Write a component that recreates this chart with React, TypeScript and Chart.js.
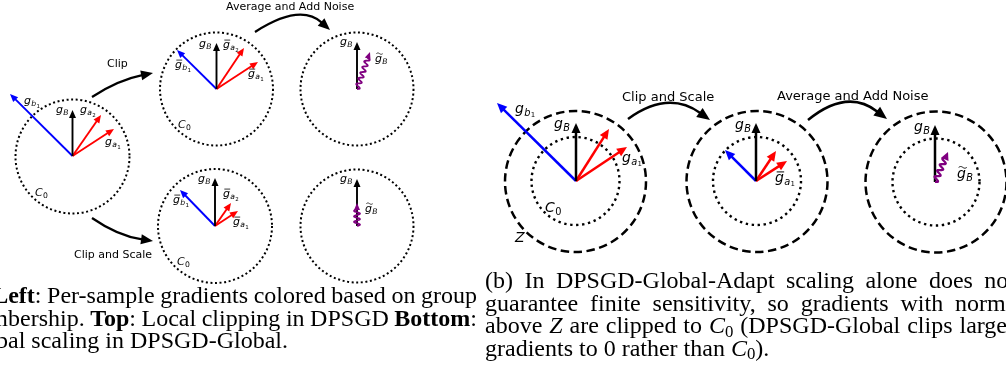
import { useEffect, useRef } from "react";
import { Chart, registerables } from "chart.js";

Chart.register(...registerables);

const WIDTH = 1006;
const HEIGHT = 381;

// ---------- (a) per-sample clipping vs. global scaling ----------
// dotted C0 balls: [cx, cy, r]
const clipBalls = [
  [72.5, 156.5, 57],
  [216.5, 89, 56.5],
  [357, 89, 56.5],
  [215, 226, 57],
  [357, 226, 56.5],
];
// gradient vectors: [x0, y0, x1, y1]
const groupBVectors = [
  [72.5, 156, 10, 94],
  [216.5, 89, 177, 50],
  [215, 226, 180, 190],
];
const groupAVectors = [
  [72.5, 156, 101, 115],
  [72.5, 156, 114, 129],
  [216.5, 89, 244, 48],
  [216.5, 89, 258, 62],
  [215, 226, 231, 203],
  [215, 226, 238, 211],
];
const batchVectors = [
  [72.5, 156, 72.5, 110],
  [216.5, 89, 216.5, 43],
  [357, 89, 357, 42],
  [215, 226, 215, 178],
  [357, 226, 357, 179],
];
const noisyVectors = [
  [357, 89, 370, 52],
  [357, 226, 357, 203],
];
// step arrows: [x0, y0, ctrlX, ctrlY, x1, y1]
const stepArrowsA = [
  [92, 97, 118, 80, 153, 73],
  [92, 218, 118, 236, 153, 241],
  [255, 32, 300, 3, 330, 30],
];
// step captions: [text, x, baseline, size]
const stepLabelsA: [string, number, number, number][] = [
  ["Clip", 107, 67, 11],
  ["Clip and Scale", 74, 258, 11],
  ["Average and Add Noise", 226, 10, 11],
];
// math labels: [x, baseline, base, accent, sub, subsub, size]
type MathLabel = [number, number, string, string, string, string, number];
const mathLabelsA: MathLabel[] = [
  [24, 104, "g", "", "b", "1", 11],
  [56, 113, "g", "", "B", "", 11],
  [80, 113, "g", "", "a", "2", 11],
  [105, 145, "g", "", "a", "1", 11],
  [35, 196, "C", "", "0", "", 11],
  [175, 68, "g", "bar", "b", "1", 11],
  [199, 47, "g", "", "B", "", 11],
  [223, 48, "g", "bar", "a", "2", 11],
  [248, 77, "g", "bar", "a", "1", 11],
  [178, 128, "C", "", "0", "", 11],
  [340, 45, "g", "", "B", "", 11],
  [375, 62, "g", "tilde", "B", "", 11],
  [198, 182, "g", "", "B", "", 11],
  [173, 203, "g", "bar", "b", "1", 11],
  [223, 197, "g", "bar", "a", "2", 11],
  [233, 225, "g", "bar", "a", "1", 11],
  [177, 265, "C", "", "0", "", 11],
  [340, 182, "g", "", "B", "", 11],
  [365, 212, "g", "tilde", "B", "", 11],
];

// ---------- (b) DPSGD-Global-Adapt ----------
const adaptInnerBalls = [
  [575.5, 181, 44],
  [757, 181, 44],
  [936, 182, 43.5],
];
const adaptOuterBalls = [
  [575.5, 181.5, 70.5],
  [757, 181.5, 70.5],
  [936, 182, 70.5],
];
const adaptGroupB = [
  [576, 181, 497, 103],
  [756, 181, 725, 150],
];
const adaptGroupA = [
  [576, 181, 609, 129],
  [576, 181, 627, 147],
  [756, 181, 776, 151],
  [756, 181, 787, 161],
];
const adaptBatch = [
  [576, 181, 576, 123],
  [756, 181, 756, 123],
  [935, 182, 935, 125],
];
const adaptNoisy = [[935, 182, 948, 152]];
const stepArrowsB = [
  [628, 119, 668, 90, 710, 120],
  [808, 120, 847, 88, 887, 119],
];
const stepLabelsB: [string, number, number, number][] = [
  ["Clip and Scale", 622, 101, 13],
  ["Average and Add Noise", 777, 100, 13],
];
const mathLabelsB: MathLabel[] = [
  [515, 113, "g", "", "b", "1", 14],
  [554, 128, "g", "", "B", "", 14],
  [622, 162, "g", "", "a", "1", 14],
  [545, 212, "C", "", "0", "", 14],
  [515, 242, "Z", "", "", "", 14],
  [735, 129, "g", "", "B", "", 14],
  [775, 182, "g", "bar", "a", "1", 14],
  [914, 131, "g", "", "B", "", 14],
  [957, 178, "g", "tilde", "B", "", 14],
];

// ---------- captions ----------
const captionA = [
  "(a) **Left**: Per-sample gradients colored based on group",
  "membership. **Top**: Local clipping in DPSGD **Bottom**:",
  "Global scaling in DPSGD-Global.",
];
const captionB = [
  "(b) In DPSGD-Global-Adapt scaling alone does not",
  "guarantee finite sensitivity, so gradients with norms",
  "above *Z* are clipped to *C*_0 (DPSGD-Global clips larger",
  "gradients to 0 rather than *C*_0).",
];
const captionABaselines = [303, 325.5, 348];
const captionBBaselines = [288, 310.5, 333, 355.5];

const BLUE = "#0000ff";
const RED = "#ff0000";
const BLACK = "#000000";
const PURPLE = "#800080";
const CAPTION_FONT = '"Liberation Serif", "Times New Roman", serif';
const SANS = '"DejaVu Sans", sans-serif';
const CAPTION_SIZE = 24;

type Ctx = CanvasRenderingContext2D;

function head(ctx: Ctx, x1: number, y1: number, ux: number, uy: number, hl: number, hw: number) {
  const bx = x1 - ux * hl;
  const by = y1 - uy * hl;
  const px = -uy;
  const py = ux;
  ctx.beginPath();
  ctx.moveTo(x1, y1);
  ctx.lineTo(bx + (px * hw) / 2, by + (py * hw) / 2);
  ctx.lineTo(bx - (px * hw) / 2, by - (py * hw) / 2);
  ctx.closePath();
  ctx.fill();
}

function straightArrow(ctx: Ctx, x0: number, y0: number, x1: number, y1: number, color: string, lw: number, hl: number, hw: number) {
  const L = Math.hypot(x1 - x0, y1 - y0);
  const ux = (x1 - x0) / L;
  const uy = (y1 - y0) / L;
  ctx.save();
  ctx.strokeStyle = color;
  ctx.fillStyle = color;
  ctx.lineWidth = lw;
  ctx.setLineDash([]);
  ctx.beginPath();
  ctx.moveTo(x0, y0);
  ctx.lineTo(x1 - ux * (hl - 1), y1 - uy * (hl - 1));
  ctx.stroke();
  head(ctx, x1, y1, ux, uy, hl, hw);
  ctx.restore();
}

function wavyArrow(ctx: Ctx, x0: number, y0: number, x1: number, y1: number, lw: number, hl: number, hw: number, amp: number, wl: number) {
  const L = Math.hypot(x1 - x0, y1 - y0);
  const ux = (x1 - x0) / L;
  const uy = (y1 - y0) / L;
  const px = -uy;
  const py = ux;
  const run = L - hl + 1;
  ctx.save();
  ctx.strokeStyle = PURPLE;
  ctx.fillStyle = PURPLE;
  ctx.lineWidth = lw;
  ctx.setLineDash([]);
  ctx.lineJoin = "round";
  ctx.beginPath();
  for (let s = 0; s <= run; s += 0.4) {
    const o = amp * Math.sin((2 * Math.PI * s) / wl);
    const x = x0 + ux * s + px * o;
    const y = y0 + uy * s + py * o;
    if (s === 0) ctx.moveTo(x, y);
    else ctx.lineTo(x, y);
  }
  ctx.stroke();
  head(ctx, x1, y1, ux, uy, hl, hw);
  ctx.restore();
}

function curvedArrow(ctx: Ctx, a: number[], lw: number, hl: number, hw: number) {
  const [x0, y0, cx, cy, x1, y1] = a;
  const L = Math.hypot(x1 - cx, y1 - cy);
  const ux = (x1 - cx) / L;
  const uy = (y1 - cy) / L;
  ctx.save();
  ctx.strokeStyle = BLACK;
  ctx.fillStyle = BLACK;
  ctx.lineWidth = lw;
  ctx.setLineDash([]);
  ctx.beginPath();
  ctx.moveTo(x0, y0);
  ctx.quadraticCurveTo(cx, cy, x1 - ux * (hl - 1), y1 - uy * (hl - 1));
  ctx.stroke();
  head(ctx, x1, y1, ux, uy, hl, hw);
  ctx.restore();
}

function ring(ctx: Ctx, cx: number, cy: number, r: number, dash: number[], lw: number) {
  ctx.save();
  ctx.strokeStyle = BLACK;
  ctx.lineWidth = lw;
  ctx.setLineDash(dash);
  ctx.beginPath();
  ctx.arc(cx, cy, r, 0, Math.PI * 2);
  ctx.stroke();
  ctx.restore();
}

function mathLabel(ctx: Ctx, x: number, y: number, base: string, accent: string, sub: string, subsub: string, s: number) {
  ctx.save();
  ctx.fillStyle = BLACK;
  ctx.strokeStyle = BLACK;
  ctx.textBaseline = "alphabetic";
  ctx.textAlign = "left";
  ctx.font = `italic ${s}px ${SANS}`;
  ctx.fillText(base, x, y);
  const wb = ctx.measureText(base).width;
  ctx.lineWidth = Math.max(0.8, s * 0.07);
  if (accent === "bar") {
    ctx.beginPath();
    ctx.moveTo(x + s * 0.12, y - s * 0.72);
    ctx.lineTo(x + wb + s * 0.02, y - s * 0.72);
    ctx.stroke();
  } else if (accent === "tilde") {
    ctx.beginPath();
    const x0 = x + s * 0.12;
    const w = wb - s * 0.05;
    for (let t = 0; t <= 1.0001; t += 0.05) {
      const xx = x0 + w * t;
      const yy = y - s * 0.76 - Math.sin(t * Math.PI * 2) * s * 0.06;
      if (t === 0) ctx.moveTo(xx, yy);
      else ctx.lineTo(xx, yy);
    }
    ctx.stroke();
  }
  let cx = x + wb + s * 0.03;
  if (sub) {
    const digit = /[0-9]/.test(sub);
    const ss = s * 0.7;
    ctx.font = `${digit ? "" : "italic "}${ss}px ${SANS}`;
    ctx.fillText(sub, cx, y + s * 0.2);
    cx += ctx.measureText(sub).width;
    if (subsub) {
      ctx.font = `${s * 0.5}px ${SANS}`;
      ctx.fillText(subsub, cx + s * 0.02, y + s * 0.32);
    }
  }
  ctx.restore();
}

type Seg = { t: string; b: boolean; i: boolean; sub: boolean };

function parseWord(w: string): Seg[] {
  const segs: Seg[] = [];
  let bold = false;
  let ital = false;
  let buf = "";
  const flush = () => {
    if (buf) segs.push({ t: buf, b: bold, i: ital, sub: false });
    buf = "";
  };
  for (let k = 0; k < w.length; k++) {
    if (w.startsWith("**", k)) {
      flush();
      bold = !bold;
      k++;
      continue;
    }
    if (w[k] === "*") {
      flush();
      ital = !ital;
      continue;
    }
    if (w[k] === "_") {
      flush();
      segs.push({ t: w[k + 1], b: false, i: false, sub: true });
      k++;
      continue;
    }
    buf += w[k];
  }
  flush();
  return segs;
}

function segFont(seg: Seg, size: number) {
  const sz = seg.sub ? size * 0.7 : size;
  return `${seg.i ? "italic " : ""}${seg.b ? "bold " : ""}${sz}px ${CAPTION_FONT}`;
}

function wordWidth(ctx: Ctx, segs: Seg[], size: number) {
  let w = 0;
  for (const seg of segs) {
    ctx.font = segFont(seg, size);
    w += ctx.measureText(seg.t).width;
  }
  return w;
}

function justifiedParagraph(ctx: Ctx, lines: string[], baselines: number[], left: number, right: number, size: number) {
  ctx.save();
  ctx.fillStyle = BLACK;
  ctx.textBaseline = "alphabetic";
  ctx.textAlign = "left";
  ctx.font = `${size}px ${CAPTION_FONT}`;
  const space = ctx.measureText(" ").width;
  lines.forEach((line, li) => {
    const words = line.split(" ").map(parseWord);
    const widths = words.map((w) => wordWidth(ctx, w, size));
    const total = widths.reduce((a, b) => a + b, 0);
    const last = li === lines.length - 1;
    const gap = last || words.length < 2 ? space : (right - left - total) / (words.length - 1);
    let x = left;
    words.forEach((segs, wi) => {
      let cx = x;
      for (const seg of segs) {
        ctx.font = segFont(seg, size);
        ctx.fillText(seg.t, cx, baselines[li] + (seg.sub ? size * 0.15 : 0));
        cx += ctx.measureText(seg.t).width;
      }
      x += widths[wi] + gap;
    });
  });
  ctx.restore();
}

const diagramPlugin = {
  id: "gradientDiagram",
  afterDraw(chart: Chart) {
    const ctx = chart.ctx;
    const xs = chart.scales.x;
    const ys = chart.scales.y;
    const X = (v: number) => xs.getPixelForValue(v);
    const Y = (v: number) => ys.getPixelForValue(v);
    const Rr = (r: number) => Math.abs(X(r) - X(0));

    ctx.save();
    // norm balls
    clipBalls.forEach(([cx, cy, r]) => ring(ctx, X(cx), Y(cy), Rr(r), [2, 2.6], 2));
    adaptInnerBalls.forEach(([cx, cy, r]) => ring(ctx, X(cx), Y(cy), Rr(r), [2.4, 3.6], 2.4));
    adaptOuterBalls.forEach(([cx, cy, r]) => ring(ctx, X(cx), Y(cy), Rr(r), [8.5, 4.5], 2.5));

    // gradient vectors, panel (a)
    const va = (list: number[][], color: string) =>
      list.forEach(([x0, y0, x1, y1]) => straightArrow(ctx, X(x0), Y(y0), X(x1), Y(y1), color, 1.9, 8, 7));
    va(groupBVectors, BLUE);
    va(groupAVectors, RED);
    va(batchVectors, BLACK);
    noisyVectors.forEach(([x0, y0, x1, y1], i) =>
      wavyArrow(ctx, X(x0), Y(y0), X(x1), Y(y1), 1.8, 7, 6, i === 0 ? 2.4 : 3, i === 0 ? 6 : 5.5)
    );

    // gradient vectors, panel (b)
    const vb = (list: number[][], color: string) =>
      list.forEach(([x0, y0, x1, y1]) => straightArrow(ctx, X(x0), Y(y0), X(x1), Y(y1), color, 2.5, 10, 9));
    vb(adaptGroupB, BLUE);
    vb(adaptGroupA, RED);
    vb(adaptBatch, BLACK);
    adaptNoisy.forEach(([x0, y0, x1, y1]) => wavyArrow(ctx, X(x0), Y(y0), X(x1), Y(y1), 2.2, 8, 8, 2.6, 6.5));

    // step arrows
    stepArrowsA.forEach((a) => curvedArrow(ctx, [X(a[0]), Y(a[1]), X(a[2]), Y(a[3]), X(a[4]), Y(a[5])], 2.2, 12, 10));
    stepArrowsB.forEach((a) => curvedArrow(ctx, [X(a[0]), Y(a[1]), X(a[2]), Y(a[3]), X(a[4]), Y(a[5])], 2.5, 13, 11));

    // step labels
    ctx.fillStyle = BLACK;
    ctx.textAlign = "left";
    ctx.textBaseline = "alphabetic";
    [...stepLabelsA, ...stepLabelsB].forEach(([t, x, y, s]) => {
      ctx.font = `${s}px ${SANS}`;
      ctx.fillText(t, X(x), Y(y));
    });

    // symbols
    [...mathLabelsA, ...mathLabelsB].forEach(([x, y, b, acc, sub, ss, s]) =>
      mathLabel(ctx, X(x), Y(y), b, acc, sub, ss, s)
    );

    // captions
    justifiedParagraph(ctx, captionA, captionABaselines.map(Y), X(-40), X(477), CAPTION_SIZE);
    justifiedParagraph(ctx, captionB, captionBBaselines.map(Y), X(485), X(1015), CAPTION_SIZE);
    ctx.restore();
  },
};

export default function App() {
  const ref = useRef<HTMLCanvasElement>(null);
  useEffect(() => {
    const canvas = ref.current;
    if (!canvas) return;
    const chart = new Chart(canvas, {
      type: "scatter",
      data: { datasets: [] },
      options: {
        responsive: false,
        maintainAspectRatio: false,
        animation: false,
        events: [],
        layout: { padding: 0 },
        plugins: { legend: { display: false }, tooltip: { enabled: false } },
        scales: {
          x: { type: "linear", min: 0, max: WIDTH, display: false },
          y: { type: "linear", min: 0, max: HEIGHT, reverse: true, display: false },
        },
      },
      plugins: [diagramPlugin],
    });
    return () => chart.destroy();
  }, []);
  return (
    <div style={{ position: "fixed", left: 0, top: 0, width: WIDTH, height: HEIGHT, background: "#fff" }}>
      <canvas ref={ref} width={WIDTH} height={HEIGHT} style={{ display: "block" }} />
    </div>
  );
}
